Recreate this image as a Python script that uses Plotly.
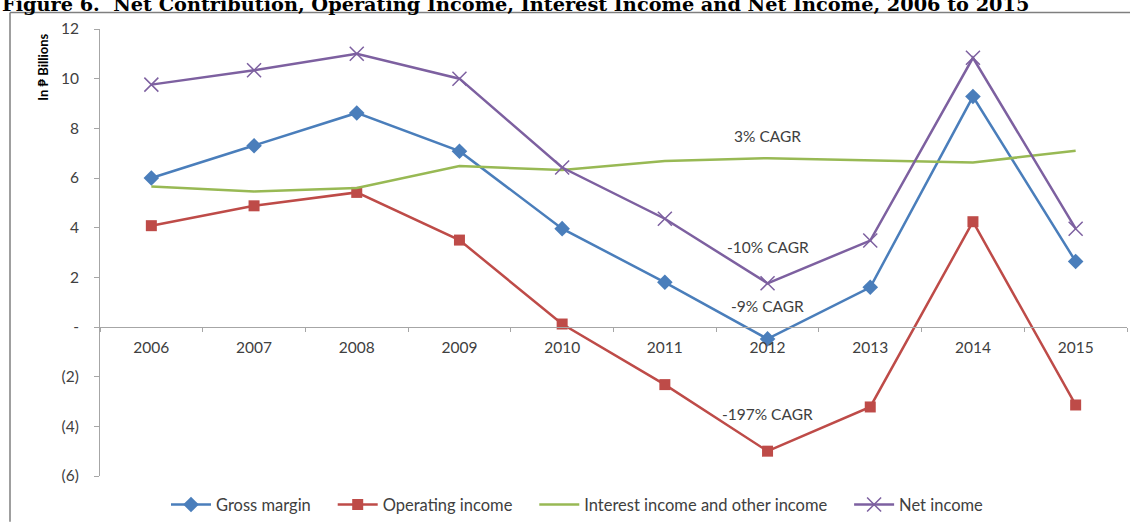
import plotly.graph_objects as go

# Fiscal years on the category axis
years = ["2006", "2007", "2008", "2009", "2010", "2011", "2012", "2013", "2014", "2015"]

# Values in billions of pesos
gross_margin = [6.0, 7.3, 8.62, 7.08, 3.96, 1.8, -0.48, 1.6, 9.28, 2.64]
operating_income = [4.08, 4.88, 5.42, 3.5, 0.12, -2.32, -5.0, -3.22, 4.24, -3.14]
interest_other_income = [5.66, 5.46, 5.6, 6.48, 6.32, 6.68, 6.8, 6.72, 6.62, 7.1]
net_income = [9.76, 10.34, 11.0, 10.0, 6.42, 4.36, 1.76, 3.48, 10.84, 3.96]

# Series names shown in the legend
series_names = ["Gross margin", "Operating income", "Interest income and other income", "Net income"]

# Y-axis ticks, accounting style for negatives
y_tick_values = [12, 10, 8, 6, 4, 2, 0, -2, -4, -6]
y_tick_labels = ["12", "10", "8", "6", "4", "2", "-", "(2)", "(4)", "(6)"]

# CAGR call-outs: (text, year, value)
cagr_notes = [
    ("3% CAGR", "2012", 7.7),
    ("-10% CAGR", "2012", 3.24),
    ("-9% CAGR", "2012", 0.84),
    ("-197% CAGR", "2012", -3.52),
]

W, H = 1130, 525
PLOT_L, PLOT_R, PLOT_T, PLOT_B = 100, 1127, 29, 479
FONT = "Lato, 'Open Sans', sans-serif"
TEXT_GREY = "#404040"
LEGEND_PAD = "\u00a0" * 4  # extra breathing room between legend entries


def px_x(px):
    return (px - PLOT_L) / (PLOT_R - PLOT_L)


def px_y(py):
    return (PLOT_B - py) / (PLOT_B - PLOT_T)


fig = go.Figure()

fig.add_trace(go.Scatter(
    x=years, y=gross_margin, name=series_names[0] + LEGEND_PAD, mode="lines+markers",
    line=dict(color="#4a7ebb", width=2.5),
    marker=dict(symbol="diamond", size=12, color="#4a7ebb"),
))
fig.add_trace(go.Scatter(
    x=years, y=operating_income, name=series_names[1] + LEGEND_PAD, mode="lines+markers",
    line=dict(color="#be4b48", width=2.5),
    marker=dict(symbol="square", size=11, color="#be4b48"),
))
fig.add_trace(go.Scatter(
    x=years, y=interest_other_income, name=series_names[2] + LEGEND_PAD, mode="lines",
    line=dict(color="#98b954", width=2.5),
))
fig.add_trace(go.Scatter(
    x=years, y=net_income, name=series_names[3], mode="lines+markers",
    line=dict(color="#7d60a0", width=2.5),
    marker=dict(symbol="x-thin-open", size=14, line=dict(color="#7d60a0", width=1.5)),
))

annotations = []
for text, yr, val in cagr_notes:
    annotations.append(dict(
        x=years.index(yr), y=val, xref="x", yref="y", text=text, showarrow=False,
        xanchor="center", yanchor="middle",
        font=dict(family=FONT, size=15.5, color=TEXT_GREY),
    ))

# Figure caption along the top edge
annotations.append(dict(
    x=px_x(0), y=px_y(4), xref="paper", yref="paper", xanchor="left", yanchor="middle",
    text="<b>Figure 6.  Net Contribution, Operating Income, Interest Income and Net Income, 2006 to 2015</b>",
    showarrow=False, font=dict(family="'DejaVu Serif', serif", size=19.3, color="#000000"),
))

# Y-axis caption
annotations.append(dict(
    x=px_x(43), y=px_y(68), xref="paper", yref="paper", xanchor="center", yanchor="middle",
    text="<b>In ₱ Billions</b>", textangle=-90, showarrow=False,
    font=dict(family=FONT, size=13, color="#000000"),
))

# Frame around the chart area
shapes = [
    dict(type="line", xref="paper", yref="paper",
         x0=px_x(10), y0=px_y(12.5), x1=px_x(10), y1=px_y(525),
         line=dict(color="#7f7f7f", width=1.5)),
    dict(type="line", xref="paper", yref="paper",
         x0=px_x(10), y0=px_y(12.5), x1=px_x(1130), y1=px_y(12.5),
         line=dict(color="#7f7f7f", width=1.5)),
]

fig.update_layout(
    width=W, height=H,
    margin=dict(l=PLOT_L, r=W - PLOT_R, t=PLOT_T, b=H - PLOT_B, pad=0),
    paper_bgcolor="white", plot_bgcolor="white",
    font=dict(family=FONT, size=15, color="#595959"),
    showlegend=True,
    legend=dict(
        orientation="h", x=px_x(166), y=px_y(508), xanchor="left", yanchor="middle",
        font=dict(family=FONT, size=16.5, color=TEXT_GREY),
        itemwidth=40, tracegroupgap=0, bgcolor="rgba(0,0,0,0)",
    ),
    annotations=annotations,
    shapes=shapes,
)

# x axis crosses the value axis at zero
fig.update_xaxes(
    type="category", range=[-0.5, 9.5],
    anchor="free", position=(0 - (-6)) / (12 - (-6)),
    showgrid=False, zeroline=False,
    showline=True, linecolor="#a6a6a6", linewidth=1,
    ticks="outside", ticklen=4, tickcolor="#a6a6a6", tickson="boundaries",
    tickfont=dict(family=FONT, size=15.5, color="#404040"),
    ticklabelstandoff=6,
)

fig.update_yaxes(
    range=[-6, 12], tickvals=y_tick_values, ticktext=y_tick_labels,
    showgrid=False, zeroline=False,
    showline=True, linecolor="#a6a6a6", linewidth=1,
    ticks="outside", ticklen=5, tickcolor="#a6a6a6",
    tickfont=dict(family=FONT, size=15.5, color="#404040"),
    ticklabelstandoff=12,
)

fig.write_html("out.html")
